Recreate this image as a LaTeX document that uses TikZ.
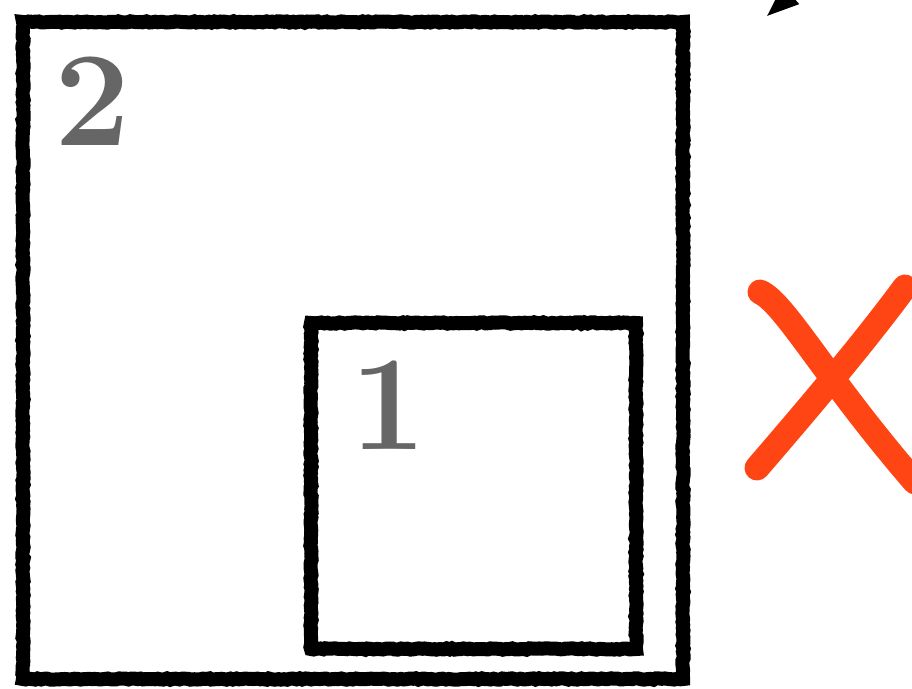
\documentclass[tikz,border=0pt]{standalone}
\usepackage{tikz}
\usetikzlibrary{arrows.meta,positioning,decorations.pathmorphing}
\usepackage{xcolor}

\begin{document}
\begin{tikzpicture}[
    x=1pt, y=1pt,
    >=Latex,
    chalk/.style={draw=black, line width=14pt, inner sep=0pt, outer sep=0pt,
      decorate, decoration={random steps, segment length=3pt, amplitude=0.7pt}},
    digit/.style={text=digitc, font=\fontsize{135}{135}\selectfont\bfseries, inner sep=0pt},
    cross/.style={draw=crossc, line width=25pt, line cap=round},
    pointer/.style={-{Triangle[length=32pt, width=24pt]}, line width=4pt}
  ]
    \definecolor{digitc}{RGB}{102,102,102}
    \definecolor{crossc}{RGB}{255,69,20}

    \useasboundingbox (0,0) rectangle (912,688);
    \clip (0,0) rectangle (912,688);

    % the two nested squares
    \node[chalk, minimum width=660pt, minimum height=657pt] (outer) at (353,337.5) {};
    \node[chalk, minimum width=325pt, minimum height=326pt] (inner) at (473.5,202) {};

    \node[digit] (two) at ([shift={(70,-79)}]outer.north west) {2};
    \node[digit] (one) at ([shift={(77,-82)}]inner.north west) {1};

    % red cross on the right
    \coordinate (xa) at (760,396);
    \coordinate (xb) at (915,206);
    \coordinate (xc) at (905,401);
    \coordinate (xd) at (757,220);
    \draw[cross] (xa) .. controls (785,385) and (825,310) .. (xb);
    \draw[cross] (xc) .. controls (860,340) and (800,270) .. (xd);

    % arrow coming in from the top edge
    \coordinate (ptail) at (812,712);
    \coordinate (ptip) at (767,672);
    \draw[pointer] (ptail) -- (ptip);
\end{tikzpicture}
\end{document}
